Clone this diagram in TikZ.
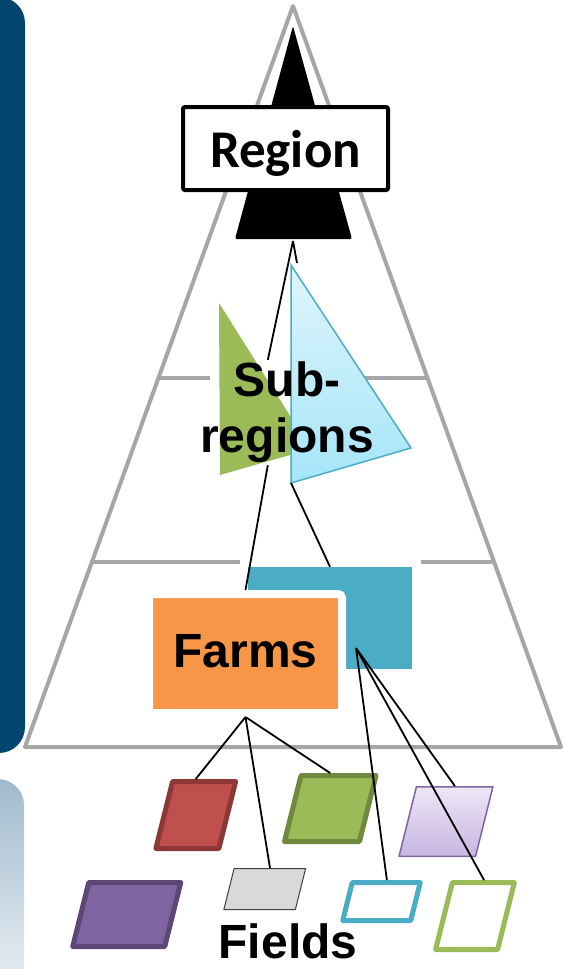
\documentclass[tikz,border=0pt]{standalone}
\usepackage{fontspec}
\setmainfont{Liberation Sans}
\newfontfamily\calibri{Carlito}
\definecolor{barblue}{RGB}{2,70,112}
\definecolor{barpale}{RGB}{160,186,205}
\definecolor{pyramid}{RGB}{166,166,166}
\definecolor{farmorange}{RGB}{247,150,70}
\definecolor{farmblue}{RGB}{75,172,198}
\definecolor{fieldred}{RGB}{192,80,77}
\definecolor{fieldredline}{RGB}{140,56,54}
\definecolor{fieldgreen}{RGB}{155,187,89}
\definecolor{fieldgreenline}{RGB}{113,137,63}
\definecolor{fieldpurple}{RGB}{128,100,162}
\definecolor{fieldpurpleline}{RGB}{92,71,118}
\definecolor{lavtop}{RGB}{237,231,246}
\definecolor{lavbot}{RGB}{199,182,225}
\definecolor{cyantop}{RGB}{223,245,252}
\definecolor{cyanbot}{RGB}{165,229,249}
\tikzset{field/.style={rectangle, xslant=0.25, transform shape, inner sep=0pt, line width=5pt, line join=round}}
\tikzset{link/.style={line width=1.8pt}, level/.style={draw=pyramid, line width=4pt}}

\begin{document}
\begin{tikzpicture}[x=1pt,y=-1pt]
	\useasboundingbox (0,0) rectangle (563,969);
	% side bars
	\fill[barblue, rounded corners=26pt] (-40,-3) rectangle (25,753);
	\shade[top color=barpale, bottom color=barpale!15, rounded corners=26pt] (-40,779) rectangle (24,1010);

	% pyramid
	\draw[level, line join=round] (293,6) -- (561,747) -- (25,747) -- cycle;
	\draw[level] (159,378) -- (210,378) (365,378) -- (427,378);
	\draw[level] (92,562) -- (240,562) (421,562) -- (493,562);

	% region
	\fill[black, rounded corners=2pt] (293,26) -- (352,239) -- (235,239) -- cycle;
	\node[draw, line width=4pt, fill=white, rounded corners=2pt, minimum width=205pt, minimum height=83pt, text depth=0pt, font=\calibri\bfseries\fontsize{53}{60}\selectfont] (region) at (285.5,148.5) {Region};
	\coordinate (rb) at (293,241);

	% sub-regions
	\fill[fieldgreen] (219,303) -- (311,449) -- (220,475) -- cycle;
	\draw[draw=farmblue, line width=1.5pt, top color=cyantop, bottom color=cyanbot] (291,265) -- (411,448) -- (291,483) -- cycle;
	\coordinate (bt) at (297,263);
	\coordinate (bb) at (291,483);

	% farms
	\node[fill=farmblue, minimum width=164pt, minimum height=102pt, inner sep=0pt] (bluefarm) at (330,618) {};
	\coordinate (bf) at (356,648);

	\begin{scope}[every node/.append style={font=\bfseries\fontsize{48}{56}\selectfont}]
		\node[align=center, inner sep=2pt] (sub) at (287,412.5) {Sub-\\regions};
		\node[fill=farmorange, draw=white, line width=8pt, rounded corners=4pt, minimum width=193pt, minimum height=119pt, text height=35pt, text depth=8pt] (farms) at (245.5,653.5) {Farms};
		\node[anchor=base, inner sep=0pt] (fields) at (288,958) {Fields};
	\end{scope}

	% fields
	\node[field, fill=fieldred, draw=fieldredline, minimum width=63pt, minimum height=67pt] (f1) at (195.75,815) {};
	\node[field, fill=fieldgreen, draw=fieldgreenline, minimum width=75pt, minimum height=66pt] (f2) at (330.25,808.5) {};
	\node[field, top color=lavtop, bottom color=lavbot, draw=fieldpurple, line width=1.5pt, minimum width=76.5pt, minimum height=69.5pt] (f3) at (446,821.5) {};
	\node[field, fill=fieldpurple, draw=fieldpurpleline, minimum width=92pt, minimum height=64pt] (f4) at (126.75,914.5) {};
	\node[field, fill=black!15, draw=black!75, line width=1pt, minimum width=71.5pt, minimum height=41pt] (f5) at (264.75,889) {};
	\node[field, fill=white, draw=farmblue, minimum width=68pt, minimum height=38pt] (f6) at (381.5,901.5) {};
	\node[field, fill=white, draw=fieldgreen, minimum width=62pt, minimum height=67pt] (f7) at (475,916) {};

	\draw[link] (rb) -- (sub.110) (rb) -- (bt) (sub.250) -- (farms.north) (bb) -- (bluefarm.north)
		(farms.south) -- ([xshift=-9pt]f1.north) (farms.south) -- (f5.north) (farms.south) -- ([xshift=-9pt]f2.north)
		(bf) -- (f6.north) (bf) -- (f3.north) (bf) -- (f7.north);
\end{tikzpicture}
\end{document}
